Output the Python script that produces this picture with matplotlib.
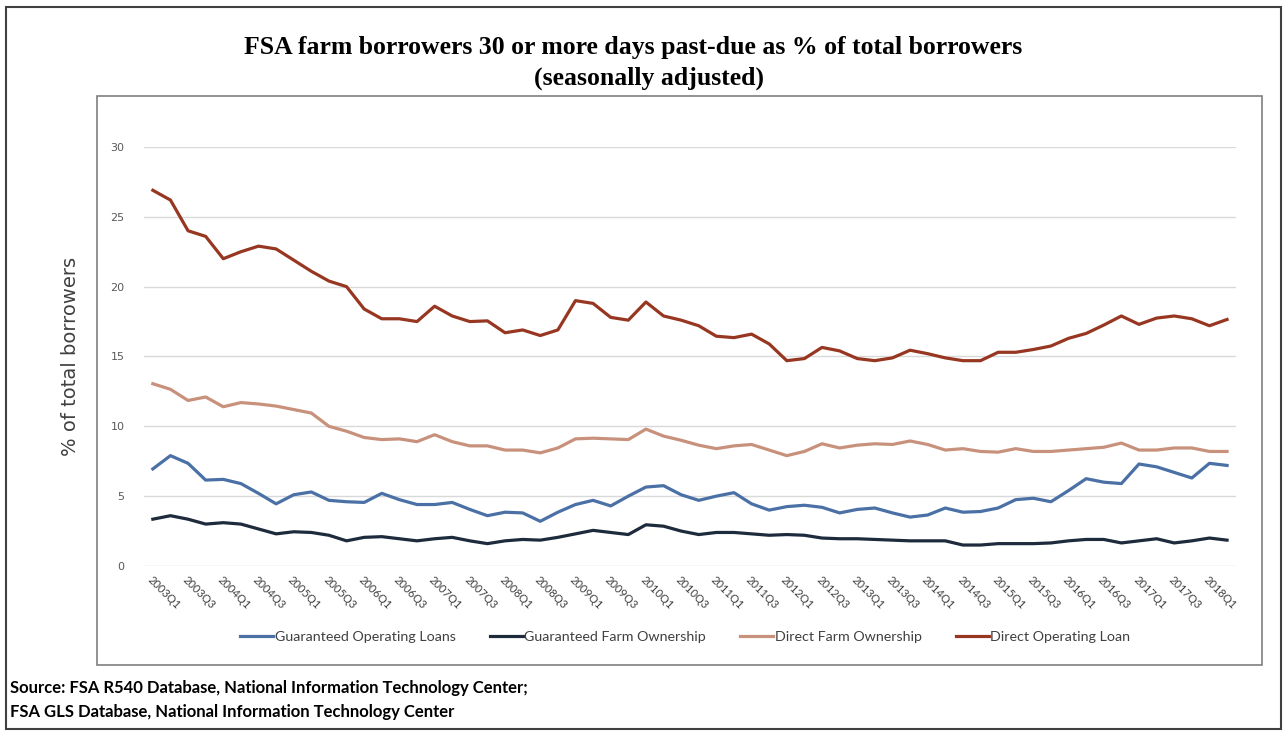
import matplotlib
matplotlib.use("Agg")
import matplotlib.pyplot as plt
from matplotlib.patches import Rectangle

# quarters 2003Q1 .. 2018Q2
quarters = [f"{y}Q{q}" for y in range(2003, 2019) for q in range(1, 5)][:62]

guaranteed_operating = [6.95, 7.9, 7.35, 6.15, 6.2, 5.9, 5.2, 4.45, 5.1, 5.3,
                        4.7, 4.6, 4.55, 5.2, 4.75, 4.4, 4.4, 4.55, 4.05, 3.6,
                        3.85, 3.8, 3.2, 3.85, 4.4, 4.7, 4.3, 5.0, 5.65, 5.75,
                        5.1, 4.7, 5.0, 5.25, 4.45, 4.0, 4.25, 4.35, 4.2, 3.8,
                        4.05, 4.15, 3.8, 3.5, 3.65, 4.15, 3.85, 3.9, 4.15, 4.75,
                        4.85, 4.6, 5.4, 6.25, 6.0, 5.9, 7.3, 7.1, 6.7, 6.3,
                        7.35, 7.2]
guaranteed_farm = [3.35, 3.6, 3.35, 3.0, 3.1, 3.0, 2.65, 2.3, 2.45, 2.4,
                   2.2, 1.8, 2.05, 2.1, 1.95, 1.8, 1.95, 2.05, 1.8, 1.6,
                   1.8, 1.9, 1.85, 2.05, 2.3, 2.55, 2.4, 2.25, 2.95, 2.85,
                   2.5, 2.25, 2.4, 2.4, 2.3, 2.2, 2.25, 2.2, 2.0, 1.95,
                   1.95, 1.9, 1.85, 1.8, 1.8, 1.8, 1.5, 1.5, 1.6, 1.6,
                   1.6, 1.65, 1.8, 1.9, 1.9, 1.65, 1.8, 1.95, 1.65, 1.8,
                   2.0, 1.85]
direct_farm = [13.05, 12.65, 11.85, 12.1, 11.4, 11.7, 11.6, 11.45, 11.2, 10.95,
               10.0, 9.65, 9.2, 9.05, 9.1, 8.9, 9.4, 8.9, 8.6, 8.6,
               8.3, 8.3, 8.1, 8.45, 9.1, 9.15, 9.1, 9.05, 9.8, 9.3,
               9.0, 8.65, 8.4, 8.6, 8.7, 8.3, 7.9, 8.2, 8.75, 8.45,
               8.65, 8.75, 8.7, 8.95, 8.7, 8.3, 8.4, 8.2, 8.15, 8.4,
               8.2, 8.2, 8.3, 8.4, 8.5, 8.8, 8.3, 8.3, 8.45, 8.45,
               8.2, 8.2]
direct_operating = [26.9, 26.2, 24.0, 23.6, 22.0, 22.5, 22.9, 22.7, 21.9, 21.1,
                    20.4, 20.0, 18.4, 17.7, 17.7, 17.5, 18.6, 17.9, 17.5, 17.55,
                    16.7, 16.9, 16.5, 16.9, 19.0, 18.8, 17.8, 17.6, 18.9, 17.9,
                    17.6, 17.2, 16.45, 16.35, 16.6, 15.9, 14.7, 14.85, 15.65, 15.4,
                    14.85, 14.7, 14.9, 15.45, 15.2, 14.9, 14.7, 14.7, 15.3, 15.3,
                    15.5, 15.75, 16.3, 16.65, 17.25, 17.9, 17.3, 17.75, 17.9, 17.7,
                    17.2, 17.65]

series_names = ["Guaranteed Operating Loans", "Guaranteed Farm Ownership",
                "Direct Farm Ownership", "Direct Operating Loan"]
colors = ["#4a70a6", "#1e2b3d", "#c8917c", "#973721"]

fig = plt.figure(figsize=(12.86, 7.32), dpi=100)
ax = fig.add_axes([0.112, 0.2268, 0.849, 0.5724])

x = list(range(len(quarters)))
for vals, name, c in zip([guaranteed_operating, guaranteed_farm, direct_farm, direct_operating],
                         series_names, colors):
    ax.plot(x, vals, color=c, lw=2.3, label=name, solid_joinstyle="round")

ax.set_xlim(-0.5, len(quarters) - 0.5)
ax.set_ylim(0, 30)
ax.set_yticks(range(0, 31, 5))
ax.yaxis.grid(True, color="#d9d9d9", lw=1)
ax.set_axisbelow(True)
for s in ax.spines.values():
    s.set_visible(False)
ax.tick_params(axis="y", length=0, pad=14, labelsize=8, labelcolor="#595959")
ax.tick_params(axis="x", length=0, pad=6, labelsize=8, labelcolor="#404040")
ax.set_xticks(x[::2])
ax.set_xticklabels(quarters[::2], rotation=-45, ha="left", va="top",
                   rotation_mode="anchor", family="Lato")
ax.set_ylabel("% of total borrowers", fontsize=14, color="#404040", labelpad=22)

fig.text(0.492, 0.935, "FSA farm borrowers 30 or more days past-due as % of total borrowers",
         ha="center", va="center", fontsize=18.5, fontweight="bold", family="Liberation Serif")
fig.text(0.505, 0.893, "(seasonally adjusted)",
         ha="center", va="center", fontsize=18.5, fontweight="bold", family="Liberation Serif")

leg = fig.legend(loc="center", bbox_to_anchor=(0.533, 0.13), ncol=4, frameon=False,
                 handlelength=2.3, handletextpad=0.1, columnspacing=2.4,
                 prop={"family": "Lato", "size": 10.3})
for t in leg.get_texts():
    t.set_color("#404040")

fig.text(0.008, 0.06, "Source: FSA R540 Database, National Information Technology Center;",
         fontsize=12, fontweight="bold", family="Lato", va="center")
fig.text(0.008, 0.028, "FSA GLS Database, National Information Technology Center",
         fontsize=12, fontweight="bold", family="Lato", va="center")

# chart frames
fig.patches.append(Rectangle((0.0754, 0.0915), 0.906, 0.7774, transform=fig.transFigure,
                             fill=False, ec="#7f7f7f", lw=1.2))
fig.patches.append(Rectangle((0.005, 0.004), 0.991, 0.986, transform=fig.transFigure,
                             fill=False, ec="#404040", lw=1.5))

fig.savefig("out.png", dpi=100)
